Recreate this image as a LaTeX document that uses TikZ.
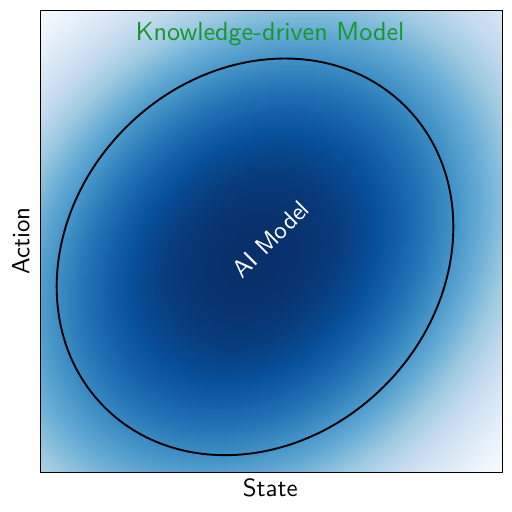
\documentclass[tikz,border=0pt]{standalone}
\usepackage{fontspec}
\newfontfamily\cmssfont{lmsans10-regular.otf}
\definecolor{kgreen}{RGB}{22,152,40}
\pgfdeclarefunctionalshading{bluesfield}{\pgfpoint{0bp}{0bp}}{\pgfpoint{462bp}{462bp}}{}{
  214.3 sub 100 div exch 212.7 sub 100 div
  2 copy mul -0.06 mul
  3 1 roll
  dup mul 0.128 mul
  exch dup mul 0.128 mul add add
  dup 0 lt {pop 0} if
  1.3 exp neg 2.71828 exch exp
  0.14 sub 0.86 div
  dup 0 lt {pop 0} if dup 1 gt {pop 1} if
  8 mul
  dup
  dup -25 mul 247 add
  1 index 1 sub dup 0 lt {pop 0} if 1 mul add
  1 index 2 sub dup 0 lt {pop 0} if -16 mul add
  1 index 3 sub dup 0 lt {pop 0} if -11 mul add
  1 index 4 sub dup 0 lt {pop 0} if 10 mul add
  1 index 5 sub dup 0 lt {pop 0} if 8 mul add
  1 index 6 sub dup 0 lt {pop 0} if 8 mul add
  1 index 7 sub dup 0 lt {pop 0} if 25 mul add
  exch pop 255 div
  1 index
  dup -16 mul 251 add
  1 index 2 sub dup 0 lt {pop 0} if -1 mul add
  1 index 3 sub dup 0 lt {pop 0} if -11 mul add
  1 index 5 sub dup 0 lt {pop 0} if -5 mul add
  1 index 6 sub dup 0 lt {pop 0} if 1 mul add
  1 index 7 sub dup 0 lt {pop 0} if -1 mul add
  exch pop 255 div
  2 index
  dup -8 mul 255 add
  1 index 2 sub dup 0 lt {pop 0} if -6 mul add
  1 index 3 sub dup 0 lt {pop 0} if 3 mul add
  1 index 4 sub dup 0 lt {pop 0} if -5 mul add
  1 index 5 sub dup 0 lt {pop 0} if -1 mul add
  1 index 6 sub dup 0 lt {pop 0} if -8 mul add
  1 index 7 sub dup 0 lt {pop 0} if -24 mul add
  exch pop 255 div
  4 -1 roll pop
}
\tikzset{
  axislabel/.style={font=\cmssfont\fontsize{25}{30}\selectfont, inner sep=0pt},
  titlelabel/.style={font=\cmssfont\fontsize{26.2}{30}\selectfont, text=kgreen, inner sep=0pt},
  innerlabel/.style={font=\cmssfont\fontsize{25}{29}\selectfont, text=white, inner sep=0pt},
  contour/.style={line width=1.9bp, black},
  frame/.style={line width=1bp, black}
}
\begin{document}
\begin{tikzpicture}[x=1bp, y=1bp]
  \useasboundingbox (0,0) rectangle (512,512);
  \fill[white] (0,0) rectangle (512,512);
  \node[inner sep=0pt, outer sep=0pt, anchor=south west] (bg) at (40.3,39.7) {\pgfuseshading{bluesfield}};
  \draw[frame] (bg.south west) rectangle (bg.north east);
  \coordinate (ec) at (255,255.15);
  \draw[contour, rotate around={45:(ec)}] (ec) ellipse [x radius=212.7, y radius=182.8];
  \node[titlelabel, anchor=base] (title) at (270,471.5) {Knowledge-driven Model};
  \node[axislabel, anchor=base] (xlab) at (270.3,15.3) {State};
  \node[axislabel, anchor=base, rotate=90] (ylab) at (29.3,270.7) {Action};
  \node[innerlabel, rotate=45] (ai) at (271,273) {AI Model};
\end{tikzpicture}
\end{document}
